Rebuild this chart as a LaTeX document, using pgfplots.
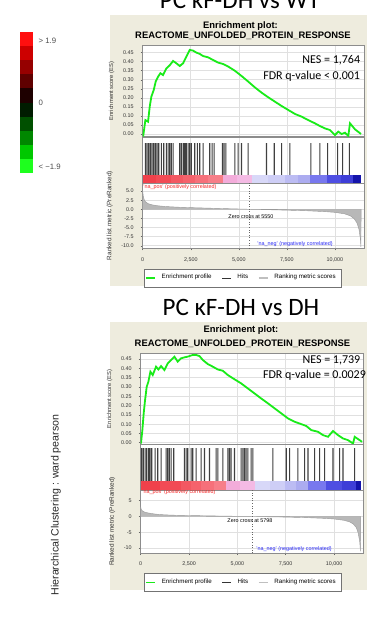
\documentclass[border=0pt]{standalone}
\usepackage{pgfplots}
\pgfplotsset{compat=1.18}
\usepackage{fontspec}
\setmainfont{Liberation Sans}
\newfontfamily\calib{Carlito}
\definecolor{beige}{RGB}{238,236,222}
\definecolor{esgreen}{RGB}{25,235,25}
\definecolor{pos}{RGB}{245,40,40}
\definecolor{neg}{RGB}{40,40,245}
\newcommand\fs[1]{\fontsize{#1}{#1}\selectfont}
\newcommand\cseg[6]{\addplot[fill={rgb,255:red,#4;green,#5;blue,#6}, draw=none] coordinates {(#1,#3)(#2,#3)} \closedcycle;}
\pgfplotsset{
 gsea/.style={
  scale only axis, anchor=south west,
  xmin=0, xmax=11500,
  xtick={0,2500,5000,7500,10000},
  scaled x ticks=false, scaled y ticks=false,
  axis line style={black!45, line width=0.3pt},
  every tick/.style={black!60, line width=0.25pt},
  major tick length=1pt,
  tick align=outside, xtick pos=bottom, ytick pos=left,
  grid=major, major grid style={black!12, line width=0.3pt},
  ticklabel style={font=\fs{2.7}, text=black!80},
  /pgf/number format/assume math mode=true,
  axis background/.style={fill=white},
  label style={font=\fs{3.2}, text=black!80},
  xticklabel style={/pgf/number format/1000 sep={,}},
  ylabel shift=-2.5pt,
 },
 legstyle/.style={
  legend columns=3, legend style={anchor=center, font=\fs{3.1}, draw=black!55, fill=white, inner sep=0.6pt, line width=0.3pt, /tikz/every even column/.append style={column sep=3pt}, /tikz/every odd column/.append style={column sep=1pt}},
  legend image code/.code={\draw[##1] (0pt,0pt) -- (4.5pt,0pt);},
 },
}
\begin{document}
\begin{tikzpicture}
\begin{scope}[x=0.5pt,y=-0.5pt]
\useasboundingbox (0,0) rectangle (367,637);
\fill[beige] (110,15) rectangle (380,286);
\fill[beige] (110,322) rectangle (380,590);
\node[anchor=base, font=\calib\fs{12.5}] at (240,9) {PC κF-DH vs WT};
\node[anchor=base, font=\calib\fs{12.5}] at (241,315) {PC κF-DH vs DH};
\node[anchor=base, font=\bfseries\fs{4.7}] at (240.5,28.5) {Enrichment plot:};
\node[anchor=base, font=\bfseries\fs{4.7}] at (243,39) {REACTOME\_UNFOLDED\_PROTEIN\_RESPONSE};
\node[anchor=base, font=\bfseries\fs{4.7}] at (241,332.7) {Enrichment plot:};
\node[anchor=base, font=\bfseries\fs{4.7}] at (242.5,346) {REACTOME\_UNFOLDED\_PROTEIN\_RESPONSE};
\node[rotate=90, font=\fs{5.3}, text=black!85] at (56,505) {Hierarchical Clustering : ward pearson};
\end{scope}

% heat legend
\begin{axis}[at={(10pt,-86.5pt)}, anchor=south west, scale only axis, width=6.5pt, height=70.5pt, xmin=0, xmax=1, ymin=0, ymax=10, hide axis, clip=false]
\addplot[fill={rgb,255:red,255;green,15;blue,15}, draw=none] coordinates {(0,10)(1,10)} \closedcycle;
\addplot[fill={rgb,255:red,205;green,0;blue,0}, draw=none] coordinates {(0,9)(1,9)} \closedcycle;
\addplot[fill={rgb,255:red,150;green,0;blue,0}, draw=none] coordinates {(0,8)(1,8)} \closedcycle;
\addplot[fill={rgb,255:red,95;green,0;blue,0}, draw=none] coordinates {(0,7)(1,7)} \closedcycle;
\addplot[fill={rgb,255:red,30;green,0;blue,0}, draw=none] coordinates {(0,6)(1,6)} \closedcycle;
\addplot[fill={rgb,255:red,0;green,28;blue,0}, draw=none] coordinates {(0,5)(1,5)} \closedcycle;
\addplot[fill={rgb,255:red,0;green,80;blue,0}, draw=none] coordinates {(0,4)(1,4)} \closedcycle;
\addplot[fill={rgb,255:red,0;green,135;blue,0}, draw=none] coordinates {(0,3)(1,3)} \closedcycle;
\addplot[fill={rgb,255:red,0;green,200;blue,0}, draw=none] coordinates {(0,2)(1,2)} \closedcycle;
\addplot[fill={rgb,255:red,30;green,255;blue,30}, draw=none] coordinates {(0,1)(1,1)} \closedcycle;
\node[anchor=west, font=\fs{3.9}, text=black!70, inner sep=0pt] at (axis cs:1.4,9.38) {> 1.9};
\node[anchor=west, font=\fs{3.9}, text=black!70, inner sep=0pt] at (axis cs:1.4,4.96) {0};
\node[anchor=west, font=\fs{3.9}, text=black!70, inner sep=0pt] at (axis cs:1.4,0.43) {< −1.9};
\end{axis}

% ================= PANEL 1 =================
\begin{axis}[gsea, at={(71.35pt,-68.35pt)}, width=110.55pt, height=45.65pt,
 ymin=-0.015, ymax=0.49, xticklabels={},
 ytick={0,0.05,0.1,0.15,0.2,0.25,0.3,0.35,0.4,0.45},
 yticklabel style={/pgf/number format/.cd, fixed, fixed zerofill, precision=2},
 ylabel={Enrichment score (ES)}, ylabel style={font=\fs{2.9}}]
\addplot[esgreen, line width=0.9pt] coordinates {
(0,0)(35,-0.005)(139,0.077)(278,0.068)(365,0.151)(451,0.207)(573,0.243)(677,0.290)(799,0.317)(920,0.336)(1059,0.326)(1233,0.363)(1406,0.380)(1580,0.404)(1753,0.391)(1927,0.376)(2101,0.391)(2274,0.428)(2448,0.465)(2621,0.461)(2795,0.450)(2969,0.443)(3142,0.431)(3403,0.424)(3663,0.409)(3923,0.395)(4184,0.387)(4444,0.373)(4791,0.350)(5139,0.321)(5486,0.290)(5833,0.258)(6180,0.229)(6527,0.203)(6875,0.179)(7222,0.155)(7569,0.133)(7916,0.111)(8263,0.096)(8611,0.077)(8958,0.059)(9218,0.044)(9479,0.031)(9739,0.022)(10000,-0.006)(10173,0.013)(10347,0.0)(10520,0.007)(10694,-0.011)(10781,0.059)(11041,0.026)(11353,0.000)};
\node[anchor=base east, font=\calib\fs{6}, inner sep=0pt] at (rel axis cs:0.985,0.8) {NES = 1,764};
\node[anchor=base east, font=\calib\fs{6}, inner sep=0pt] at (rel axis cs:0.985,0.625) {FDR q-value < 0.001};
\end{axis}

\begin{axis}[gsea, at={(71.35pt,-91.5pt)}, width=110.55pt, height=23pt,
 ymin=0, ymax=46, ytick=\empty, xticklabels={}, major tick length=0pt]
\addplot[ybar, bar width=0.55pt, bar shift=0pt, fill=black!75, draw=none] coordinates {
(139,40)(226,40)(312,40)(399,40)(486,40)(573,40)(660,40)(746,40)(833,40)(972,40)(1094,40)(1233,40)(1319,40)(1406,40)(1493,40)(1580,40)(1927,40)(2014,40)(2101,40)(2153,40)(2222,40)(2274,40)(2361,40)(2448,40)(2535,40)(2708,40)(2847,40)(2969,40)(3142,40)(3489,40)(3611,40)(3715,40)(4149,40)(4236,40)(4323,40)(4791,40)(4965,40)(5139,40)(5486,40)(6441,40)(6840,40)(7222,40)(7656,40)(8749,40)(9218,40)(9617,40)(10138,40)(10399,40)(10746,40)};
\cseg{0}{700}{8}{240}{65}{75}
\cseg{700}{1493}{8}{242}{75}{85}
\cseg{1493}{2100}{8}{243}{88}{98}
\cseg{2100}{2708}{8}{245}{98}{108}
\cseg{2708}{3400}{8}{246}{112}{122}
\cseg{3400}{4184}{8}{247}{126}{136}
\cseg{4184}{4900}{8}{243}{172}{218}
\cseg{4900}{5659}{8}{244}{186}{228}
\cseg{5659}{6500}{8}{216}{216}{248}
\cseg{6500}{7395}{8}{206}{206}{246}
\cseg{7395}{8100}{8}{188}{188}{243}
\cseg{8100}{8698}{8}{172}{172}{240}
\cseg{8698}{9566}{8}{120}{120}{238}
\cseg{9566}{10300}{8}{78}{78}{226}
\cseg{10300}{10955}{8}{62}{62}{215}
\cseg{10955}{11353}{8}{20}{20}{170}
\end{axis}

\begin{axis}[gsea, legstyle, at={(71.35pt,-124.15pt)}, width=110.55pt, height=32.65pt,
 ymin=-10.7, ymax=7.2, ytick={-10,-7.5,-5,-2.5,0,2.5,5},
 yticklabel style={/pgf/number format/.cd, fixed, fixed zerofill, precision=1},
 xlabel={Rank in Ordered Dataset}, ylabel={Ranked list metric (PreRanked)},
 legend style={at={(0.451,-0.455)}}]
\addlegendimage{esgreen, line width=0.8pt}\addlegendentry{Enrichment profile}
\addlegendimage{black!80, line width=0.4pt}\addlegendentry{Hits}
\addlegendimage{black!25, line width=0.6pt}\addlegendentry{Ranking metric scores}
\addplot[forget plot, fill=black!28, draw=black!40, line width=0.2pt] coordinates {
(0,5.0)(30,3.6)(80,2.6)(150,2.0)(300,1.5)(500,1.2)(800,0.95)(1200,0.75)(1800,0.58)(2500,0.45)(3500,0.3)(4500,0.15)(5550,0)(6500,-0.12)(7500,-0.25)(8500,-0.4)(9500,-0.65)(10000,-0.85)(10500,-1.25)(10800,-1.8)(11000,-2.6)(11150,-3.8)(11250,-5.5)(11320,-8)(11350,-10.3)(11360,0)} \closedcycle;
\addplot[forget plot, black!60, densely dotted, line width=0.3pt] coordinates {(5550,-10.7)(5550,7.2)};
\node[anchor=west, text=pos, font=\fs{2.7}, inner sep=0pt] at (axis cs:15,6.2) {'na\_pos' (positively correlated)};
\node[text=black, font=\fs{2.7}, inner sep=0pt] at (axis cs:5632,-2.1) {Zero cross at 5550};
\node[anchor=west, text=neg, font=\fs{2.7}, inner sep=0pt] at (axis cs:5944,-9.5) {'na\_neg' (negatively correlated)};
\end{axis}

% ================= PANEL 2 =================
\begin{axis}[gsea, at={(70.35pt,-222.3pt)}, width=111.15pt, height=45.76pt,
 ymin=-0.01, ymax=0.482, xticklabels={},
 ytick={0,0.05,0.1,0.15,0.2,0.25,0.3,0.35,0.4,0.45},
 yticklabel style={/pgf/number format/.cd, fixed, fixed zerofill, precision=2},
 ylabel={Enrichment score (ES)}, ylabel style={font=\fs{2.9}}]
\addplot[esgreen, line width=0.9pt] coordinates {
(0,0)(17,0.0)(86,0.068)(155,0.158)(225,0.229)(311,0.301)(397,0.328)(501,0.382)(622,0.364)(794,0.409)(915,0.394)(1053,0.412)(1226,0.391)(1399,0.427)(1572,0.445)(1744,0.463)(1917,0.436)(2090,0.454)(2262,0.459)(2435,0.463)(2694,0.472)(2867,0.472)(3040,0.466)(3212,0.445)(3471,0.423)(3730,0.409)(3989,0.394)(4248,0.387)(4507,0.364)(4853,0.341)(5198,0.319)(5544,0.292)(5889,0.265)(6234,0.238)(6580,0.212)(6925,0.185)(7271,0.158)(7616,0.131)(7961,0.113)(8307,0.100)(8566,0.090)(8825,0.068)(9170,0.059)(9429,0.041)(9688,0.032)(9948,0.063)(10207,0.041)(10466,0.023)(10725,0.014)(10984,-0.004)(11070,0.032)(11329,0.014)(11450,0.005)};
\end{axis}
\begin{scope}[x=0.5pt,y=-0.5pt]
\node[anchor=base east, font=\calib\fs{6}, inner sep=0pt] at (360.7,363.3) {NES = 1,739};
\node[anchor=base east, font=\calib\fs{6}, inner sep=0pt] at (366.3,378.3) {FDR q-value = 0.0029};
\end{scope}

\begin{axis}[gsea, at={(70.35pt,-245pt)}, width=111.15pt, height=22.7pt,
 ymin=0, ymax=45.4, ytick=\empty, xticklabels={}, major tick length=0pt]
\addplot[ybar, bar width=0.55pt, bar shift=0pt, fill=black!75, draw=none] coordinates {
(52,42)(138,42)(225,42)(311,42)(414,42)(484,42)(570,42)(743,42)(881,42)(1053,42)(1313,42)(1399,42)(1485,42)(1572,42)(1710,42)(2262,42)(2349,42)(2435,42)(2608,42)(2694,42)(2867,42)(3126,42)(3299,42)(3558,42)(3903,42)(3989,42)(4248,42)(4507,42)(4594,42)(4680,42)(4853,42)(5198,42)(5285,42)(5371,42)(5457,42)(5544,42)(5716,42)(5803,42)(6839,42)(7530,42)(7702,42)(8134,42)(8479,42)(8652,42)(8998,42)(9257,42)(9516,42)(9948,42)(10293,42)(10466,42)(11070,42)};
\cseg{0}{1000}{9}{240}{65}{75}
\cseg{1000}{2090}{9}{242}{75}{85}
\cseg{2090}{2600}{9}{243}{88}{98}
\cseg{2600}{3126}{9}{245}{98}{108}
\cseg{3126}{3800}{9}{246}{112}{122}
\cseg{3800}{4421}{9}{247}{126}{136}
\cseg{4421}{5150}{9}{243}{172}{218}
\cseg{5150}{5889}{9}{244}{186}{228}
\cseg{5889}{6700}{9}{216}{216}{248}
\cseg{6700}{7443}{9}{206}{206}{246}
\cseg{7443}{8050}{9}{188}{188}{243}
\cseg{8050}{8652}{9}{172}{172}{240}
\cseg{8652}{9602}{9}{120}{120}{238}
\cseg{9602}{10400}{9}{78}{78}{226}
\cseg{10400}{11156}{9}{62}{62}{215}
\cseg{11156}{11381}{9}{20}{20}{170}
\end{axis}

\begin{axis}[gsea, legstyle, at={(70.35pt,-276.5pt)}, width=111.15pt, height=31.5pt,
 ymin=-11.6, ymax=8.4, ytick={-10,-5,0,5},
 xlabel={Rank in Ordered Dataset}, ylabel={Ranked list metric (PreRanked)},
 legend style={at={(0.458,-0.468)}}]
\addlegendimage{esgreen, line width=0.8pt}\addlegendentry{Enrichment profile}
\addlegendimage{black!80, line width=0.4pt}\addlegendentry{Hits}
\addlegendimage{black!25, line width=0.6pt}\addlegendentry{Ranking metric scores}
\addplot[forget plot, fill=black!28, draw=black!40, line width=0.2pt] coordinates {
(0,3.0)(30,2.2)(80,1.8)(200,1.4)(400,1.1)(700,0.8)(1000,0.6)(1500,0.45)(2000,0.35)(3000,0.25)(4000,0.15)(5000,0.06)(5798,0)(6500,-0.1)(7500,-0.2)(8500,-0.35)(9500,-0.6)(10000,-0.8)(10500,-1.2)(10800,-1.7)(11000,-2.4)(11150,-3.5)(11250,-5.2)(11330,-8)(11370,-11.1)(11380,0)} \closedcycle;
\addplot[forget plot, black!60, densely dotted, line width=0.3pt] coordinates {(5798,-11.6)(5798,8.4)};
\node[anchor=west, text=pos, font=\fs{2.7}, inner sep=0pt] at (axis cs:67,7.8) {'na\_pos' (positively correlated)};
\node[text=black, font=\fs{2.7}, inner sep=0pt] at (axis cs:5654,-1.44) {Zero cross at 5798};
\node[anchor=west, text=neg, font=\fs{2.7}, inner sep=0pt] at (axis cs:5965,-10.3) {'na\_neg' (negatively correlated)};
\end{axis}
\end{tikzpicture}
\end{document}
